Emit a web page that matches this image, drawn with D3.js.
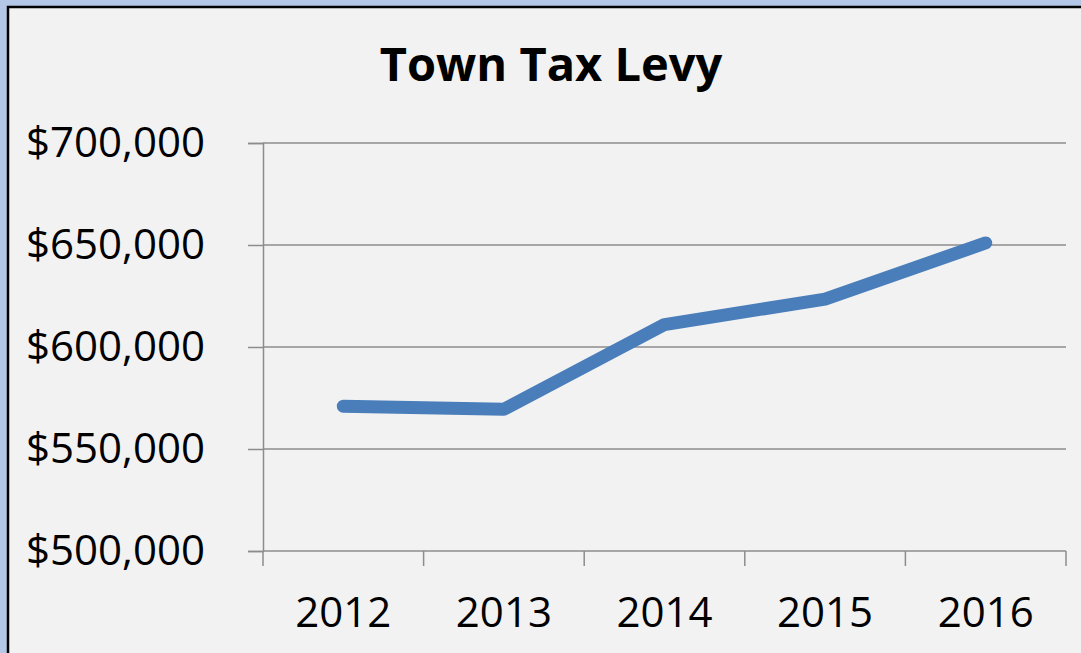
<!DOCTYPE html>
<html>
<head>
<meta charset="utf-8">
<script src="https://cdn.jsdelivr.net/npm/d3@7"></script>
<style>
  html, body { margin: 0; padding: 0; background: #b4c7e7; }
  svg { display: block; }
  text { font-family: "Open Sans", sans-serif; fill: #000; }
</style>
</head>
<body>
<svg id="chart" width="1081" height="653"></svg>
<script>
const years = ["2012", "2013", "2014", "2015", "2016"];
const levy = [571000, 569500, 611000, 623500, 651000];
const yTicks = [500000, 550000, 600000, 650000, 700000];

const svg = d3.select("#chart");
const width = 1081, height = 653;

// frame
svg.append("rect").attr("x", 0).attr("y", 0).attr("width", width).attr("height", height).attr("fill", "#b4c7e7");
svg.append("rect")
    .attr("x", 8).attr("y", 7)
    .attr("width", width + 10).attr("height", height + 10)
    .attr("fill", "#f2f2f2")
    .attr("stroke", "#000")
    .attr("stroke-width", 2.5);

const plot = { left: 263, right: 1066, top: 143, bottom: 551 };

const x = d3.scaleBand().domain(years).range([plot.left, plot.right]).padding(0);
const y = d3.scaleLinear().domain([500000, 700000]).range([plot.bottom, plot.top]);

const fmt = d => "$" + d3.format(",")(d);

// gridlines
svg.append("g")
    .selectAll("line")
    .data(yTicks)
    .enter().append("line")
    .attr("x1", plot.left).attr("x2", plot.right)
    .attr("y1", d => y(d)).attr("y2", d => y(d))
    .attr("stroke", "#8c8c8c")
    .attr("stroke-width", 1.5);

// y axis
const yAxis = svg.append("g")
    .attr("transform", `translate(${plot.left},0)`)
    .call(d3.axisLeft(y).tickValues(yTicks).tickFormat(fmt).tickSize(15).tickPadding(43));
yAxis.select(".domain").attr("stroke", "#8c8c8c").attr("stroke-width", 1.5);
yAxis.selectAll(".tick line").attr("stroke", "#8c8c8c").attr("stroke-width", 1.5);
yAxis.selectAll(".tick text")
    .attr("font-size", 42)
    .attr("font-family", "'Open Sans', sans-serif")
    .attr("fill", "#000");

// x axis ticks at category boundaries
const boundaries = years.map(d => x(d)).concat([plot.right]);
svg.append("g")
    .selectAll("line")
    .data(boundaries)
    .enter().append("line")
    .attr("x1", d => d).attr("x2", d => d)
    .attr("y1", plot.bottom).attr("y2", plot.bottom + 15)
    .attr("stroke", "#8c8c8c")
    .attr("stroke-width", 1.5);

svg.append("g")
    .selectAll("text")
    .data(years)
    .enter().append("text")
    .attr("x", d => x(d) + x.bandwidth() / 2)
    .attr("y", 627)
    .attr("text-anchor", "middle")
    .attr("font-size", 42)
    .text(d => d);

// line
const line = d3.line()
    .x((d, i) => x(years[i]) + x.bandwidth() / 2)
    .y(d => y(d));

svg.append("path")
    .datum(levy)
    .attr("d", line)
    .attr("fill", "none")
    .attr("stroke", "#4a7ebb")
    .attr("stroke-width", 13)
    .attr("stroke-linecap", "round")
    .attr("stroke-linejoin", "round");

// title
svg.append("text")
    .attr("x", 551)
    .attr("y", 81)
    .attr("text-anchor", "middle")
    .attr("font-size", 47)
    .attr("font-weight", "bold")
    .text("Town Tax Levy");
</script>
</body>
</html>
